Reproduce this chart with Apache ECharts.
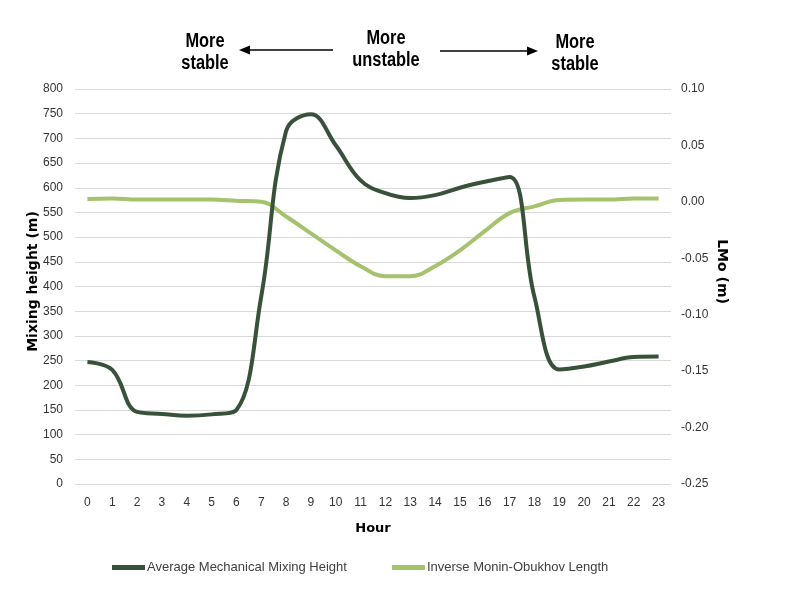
<!DOCTYPE html>
<html>
<head>
<meta charset="utf-8">
<script src="https://cdn.jsdelivr.net/npm/echarts@6/dist/echarts.min.js"></script>
<style>html,body{margin:0;padding:0;background:#fff}#c{width:800px;height:600px}</style>
</head>
<body>
<div id="c"></div>
<script>
const hours = ['0','1','2','3','4','5','6','7','8','9','10','11','12','13','14','15','16','17','18','19','20','21','22','23'];
const mixingHeight = [247, 231, 146, 142, 138, 141, 150, 380, 715, 749, 686, 615, 589, 579, 585, 600, 612, 622, 379, 232, 238, 248, 257, 258];
const inverseLMo = [0.0025, 0.003, 0.002, 0.002, 0.002, 0.002, 0.001, 0.0001, -0.013, -0.028, -0.043, -0.057, -0.066, -0.066, -0.057, -0.043, -0.026, -0.010, -0.004, 0.0016, 0.002, 0.002, 0.003, 0.003];
const leftTicks = {min: 0, max: 800, interval: 50};
const rightTicks = {min: -0.25, max: 0.10, interval: 0.05};

const dark = '#38523a';
const light = '#a5c26f';
const font = 'Liberation Sans, Arial, sans-serif';
const nameFont = 'DejaVu Sans, sans-serif';
const noteFont = 'bold 20px "Liberation Sans", Arial, sans-serif';

const chart = echarts.init(document.getElementById('c'));
chart.setOption({
  animation: false,
  backgroundColor: '#fff',
  textStyle: {fontFamily: font},
  grid: {left: 75, right: 129, top: 89, bottom: 116},
  legend: {
    left: 107, top: 556, itemGap: 45, itemWidth: 33, itemHeight: 5,
    icon: 'rect',
    textStyle: {fontSize: 13, color: '#404040', fontFamily: font, padding: [0,0,0,-3]},
    data: [{name: 'Average Mechanical Mixing Height'}, {name: 'Inverse Monin-Obukhov Length'}]
  },
  xAxis: {
    type: 'category', data: hours, boundaryGap: true,
    name: 'Hour', nameLocation: 'middle', nameGap: 38,
    nameTextStyle: {fontWeight: 'bold', fontSize: 13, color: '#000', fontFamily: nameFont},
    axisLine: {show: false}, axisTick: {show: false},
    axisLabel: {color: '#333', fontSize: 12, margin: 13}
  },
  yAxis: [{
    type: 'value', min: leftTicks.min, max: leftTicks.max, interval: leftTicks.interval,
    name: 'Mixing height (m)', nameLocation: 'middle', nameGap: 35, nameRotate: 90, nameMoveOverlap: false,
    nameTextStyle: {fontWeight: 'bold', fontSize: 14, color: '#000', fontFamily: nameFont, padding: [0, 0, 0, 10]},
    axisLine: {show: false}, axisTick: {show: false},
    axisLabel: {color: '#333', fontSize: 12, margin: 12},
    splitLine: {lineStyle: {color: '#d9d9d9', width: 1}}
  }, {
    type: 'value', min: rightTicks.min, max: rightTicks.max, interval: rightTicks.interval,
    name: 'LMo (m)', nameLocation: 'middle', nameGap: 44, nameRotate: -90, nameMoveOverlap: false,
    nameTextStyle: {fontWeight: 'bold', fontSize: 14, color: '#000', fontFamily: nameFont, padding: [0, 30, 0, 0]},
    axisLine: {show: false}, axisTick: {show: false},
    axisLabel: {color: '#333', fontSize: 12, margin: 10, formatter: v => v.toFixed(2)},
    splitLine: {show: false}
  }],
  series: [{
    name: 'Average Mechanical Mixing Height', type: 'line', yAxisIndex: 0,
    data: mixingHeight, smooth: 0.4, symbol: 'none',
    lineStyle: {color: dark, width: 4}, itemStyle: {color: dark}, z: 3
  }, {
    name: 'Inverse Monin-Obukhov Length', type: 'line', yAxisIndex: 1,
    data: inverseLMo, smooth: 0.4, symbol: 'none',
    lineStyle: {color: light, width: 4}, itemStyle: {color: light}, z: 2
  }],
  graphic: [
    {type: 'text', x: 205, y: 30, scaleX: 0.82, style: {text: 'More\nstable', x: 0, y: 0, align: 'center', font: noteFont, fill: '#000', lineHeight: 22}},
    {type: 'text', x: 386, y: 27, scaleX: 0.82, style: {text: 'More\nunstable', x: 0, y: 0, align: 'center', font: noteFont, fill: '#000', lineHeight: 22}},
    {type: 'text', x: 575, y: 31, scaleX: 0.82, style: {text: 'More\nstable', x: 0, y: 0, align: 'center', font: noteFont, fill: '#000', lineHeight: 22}},
    {type: 'line', shape: {x1: 333, y1: 50, x2: 248, y2: 50}, style: {stroke: '#000', lineWidth: 1.5}},
    {type: 'polygon', shape: {points: [[239, 50], [250, 45.5], [250, 54.5]]}, style: {fill: '#000'}},
    {type: 'line', shape: {x1: 440, y1: 51, x2: 528, y2: 51}, style: {stroke: '#000', lineWidth: 1.5}},
    {type: 'polygon', shape: {points: [[538, 51], [527, 46.5], [527, 55.5]]}, style: {fill: '#000'}}
  ]
});
</script>
</body>
</html>
